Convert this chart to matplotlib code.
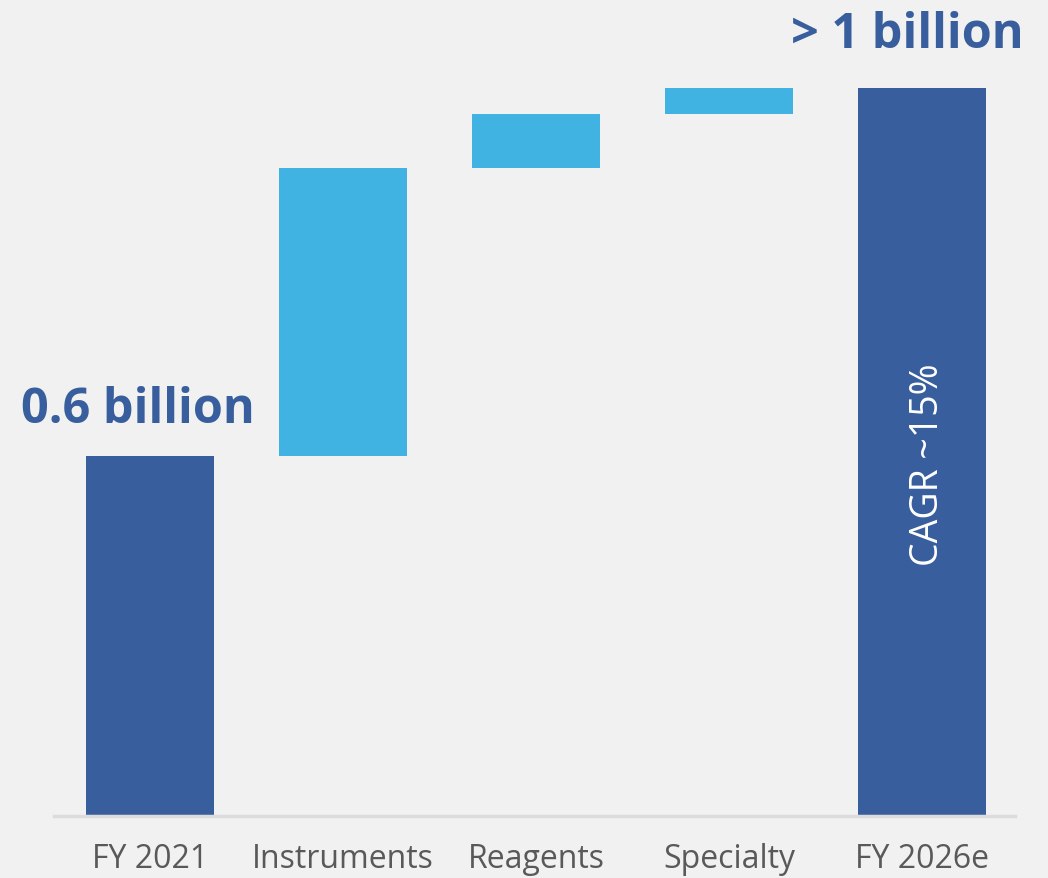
import numpy as np
import matplotlib.pyplot as plt

plt.rcParams['font.family'] = ['Open Sans', 'DejaVu Sans']

# datos del grafico (mil millones)
categorias = ['FY 2021', 'Instruments', 'Reagents', 'Specialty', 'FY 2026e']
inicio = 0.60
incrementos = [0.48, 0.09, 0.043]
total = inicio + sum(incrementos)

azul_oscuro = '#385e9d'
azul_claro = '#41b3e3'
fondo = '#f1f1f1'

fig = plt.figure(figsize=(10.48, 8.79), dpi=100, facecolor=fondo)
ax = fig.add_axes([53.5 / 1048, 1 - 817 / 879, 965 / 1048, 817 / 879])
ax.set_facecolor(fondo)

x = np.arange(len(categorias))
ancho = 0.663

# barras totales
ax.bar(x[0], inicio, width=ancho, color=azul_oscuro)
ax.bar(x[-1], total, width=ancho, color=azul_oscuro)

# barras flotantes
base = np.cumsum([inicio] + incrementos[:-1])
ax.bar(x[1:4], incrementos, bottom=base, width=ancho, color=azul_claro)

ax.set_xlim(-0.5, 4.5)
ax.set_ylim(0, 817 / 600)

for s in ['top', 'right', 'left']:
    ax.spines[s].set_visible(False)
ax.spines['bottom'].set_color('#dcdcdc')
ax.spines['bottom'].set_linewidth(2.5)
ax.spines['bottom'].set_bounds(-0.5, 4.48)

ax.set_yticks([])
ax.set_xticks(x)
ax.set_xticklabels(categorias, fontsize=23, color='#595959')
ax.tick_params(axis='x', length=0, pad=19)

# etiquetas
ax.text(x[0] - 0.065, inicio + 0.077, '0.6 billion', ha='center', va='center',
        fontsize=35, fontweight='bold', color=azul_oscuro)
ax.text(x[-1] - 0.075, total + 0.09, '> 1 billion', ha='center', va='center',
        fontsize=35, fontweight='bold', color=azul_oscuro)
ax.text(x[-1] + 0.03, 0.587, 'CAGR ~15%', ha='center', va='center', rotation=90,
        fontsize=27, color='white')

plt.savefig('out.png', dpi=100, facecolor=fondo)
